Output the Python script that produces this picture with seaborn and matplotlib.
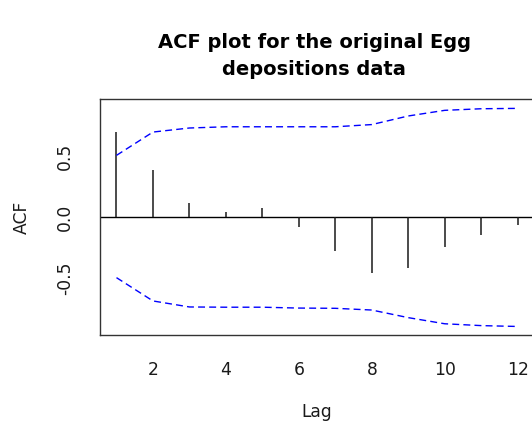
import matplotlib
matplotlib.use("Agg")
import matplotlib.pyplot as plt
import seaborn as sns
import pandas as pd

# Sample autocorrelations of the egg depositions series
lags = [1, 2, 3, 4, 5, 6, 7, 8, 9, 10, 11, 12]
acf_values = [0.698, 0.383, 0.114, 0.041, 0.076, -0.082,
              -0.274, -0.451, -0.416, -0.239, -0.147, -0.062]

# Bartlett-type confidence limits per lag
upper_limit = [0.505, 0.695, 0.728, 0.738, 0.738, 0.738,
               0.738, 0.756, 0.826, 0.872, 0.885, 0.888]
lower_limit = [-0.492, -0.682, -0.731, -0.733, -0.733, -0.740,
               -0.742, -0.756, -0.818, -0.868, -0.883, -0.890]

x_ticks = [2, 4, 6, 8, 10, 12]
y_ticks = [-0.5, 0.0, 0.5]
title_lines = ["ACF plot for the original Egg", "depositions data"]

sns.set_style("white")
plt.rcParams["font.family"] = ["DejaVu Sans"]

df = pd.DataFrame({"lag": lags, "acf": acf_values,
                   "upper": upper_limit, "lower": lower_limit})

fig = plt.figure(figsize=(5.32, 4.25), dpi=100)
ax = fig.add_axes([100.3 / 532, 1 - 335.3 / 425,
                   (533.7 - 100.3) / 532, (335.3 - 99.3) / 425])

# zero reference line and correlation spikes
ax.axhline(0, color="black", lw=1.0, zorder=2)
ax.vlines(df["lag"], 0, df["acf"], color="#1a1a1a", lw=1.1, zorder=3)

# confidence bands
for col in ["upper", "lower"]:
    sns.lineplot(data=df, x="lag", y=col, ax=ax, color="#0000ff",
                 lw=1.0, dashes=False, zorder=4)
for line in ax.get_lines()[1:]:
    line.set_dashes((5, 3))

ax.set_xlim(0.556, 12.44)
ax.set_ylim(-0.962, 0.962)
ax.set_xticks(x_ticks)
ax.set_xticklabels([str(t) for t in x_ticks])
ax.set_yticks(y_ticks)
ax.set_yticklabels(["-0.5", "0.0", "0.5"], rotation=90, va="center")

for s in ax.spines.values():
    s.set_color("#333333")
    s.set_linewidth(1.0)
    s.set_visible(True)

ax.tick_params(axis="both", which="both", direction="out", length=8,
               width=1.0, color="#333333", labelsize=12.3, labelcolor="#1a1a1a")
ax.tick_params(axis="x", pad=10.5)
ax.tick_params(axis="y", pad=11)

ax.set_xlabel("Lag", fontsize=12.3, color="#1a1a1a", labelpad=17)
ax.set_ylabel("ACF", fontsize=12.3, color="#1a1a1a", labelpad=18)

# two-line bold title
for text, base_px in zip(title_lines, [48.3, 75.0]):
    fig.text(314 / 532, 1 - base_px / 425, text, ha="center", va="baseline",
             fontsize=14.0, fontweight="bold", color="black")

fig.savefig("out.png", dpi=100)
